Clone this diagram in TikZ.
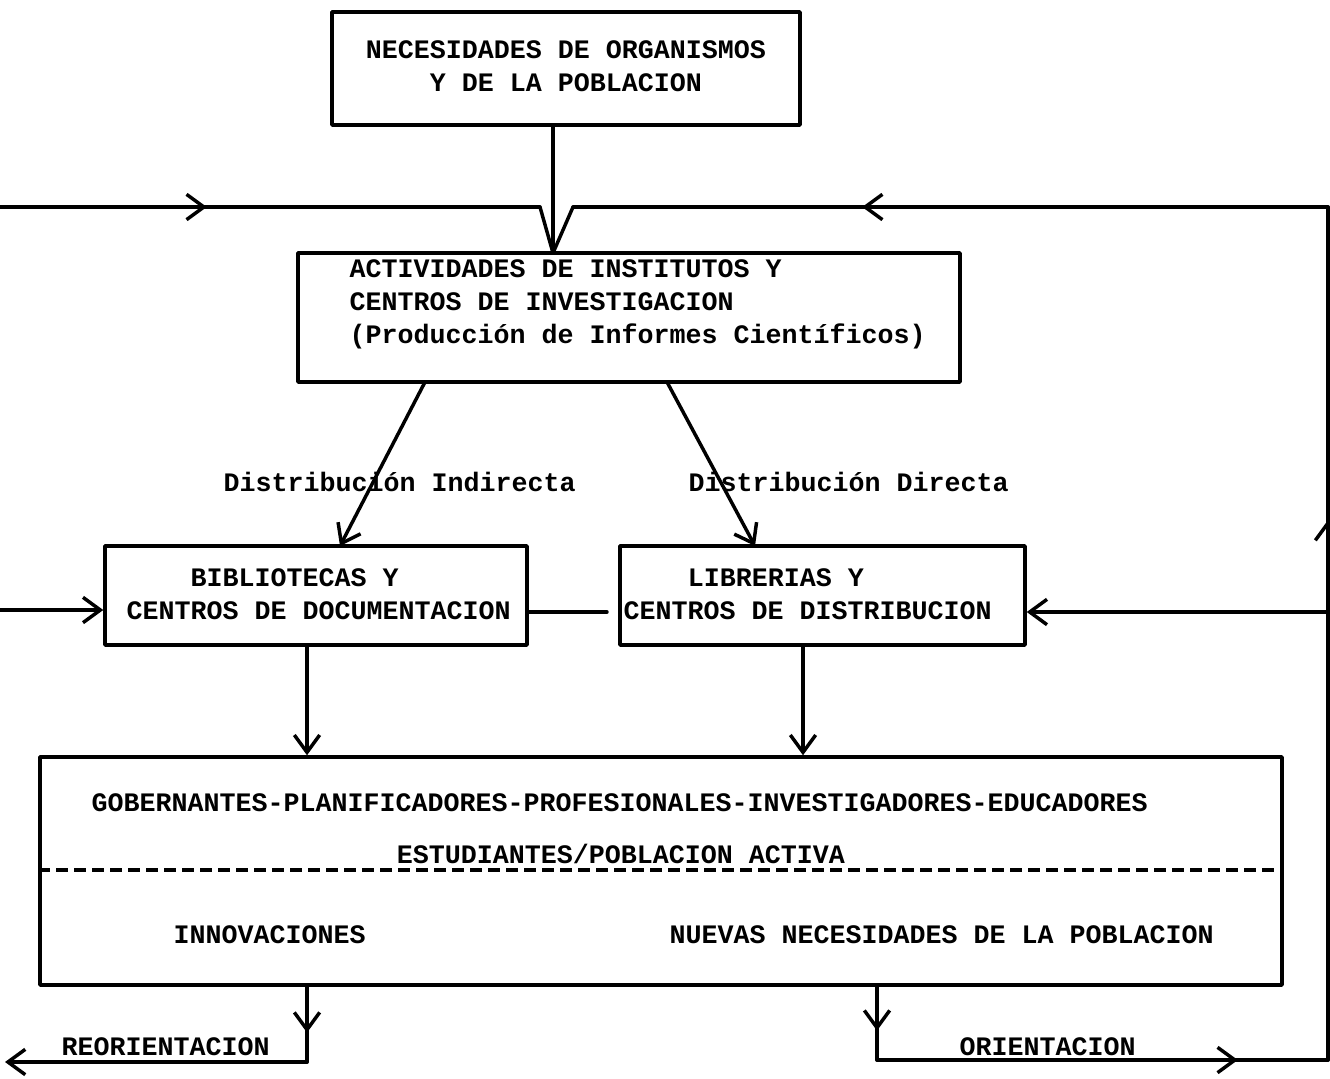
\documentclass[tikz,border=0pt]{standalone}
\usepackage{fontspec}
\setmainfont{Liberation Mono}
\usetikzlibrary{arrows.meta,decorations.markings}
\tikzset{
  arr/.tip={Straight Barb[length=13pt,width=19pt]},
  box/.style={draw,line width=2.6pt,inner sep=0pt},
  lbl/.style={inner sep=0pt,font=\fontsize{20pt}{24.75pt}\selectfont\bfseries},
  midarr/.style={postaction={decorate},decoration={markings,mark=at position #1 with {\arrow{arr}}}},
}
\begin{document}
\begin{tikzpicture}[x=0.75pt,y=-0.75pt,line width=2.6pt,line cap=round,line join=round]
\useasboundingbox (0,0) rectangle (1330,1078);
\clip (0,0) rectangle (1330,1078);
% boxes
\node[box,minimum width=351pt,minimum height=84.75pt] (box1) at (566,68.5) {};
\node[box,minimum width=496.5pt,minimum height=96.75pt] (box2) at (629,317.5) {};
\node[box,minimum width=316.5pt,minimum height=74.25pt] (box3) at (316,595.5) {};
\node[box,minimum width=303.75pt,minimum height=74.25pt] (box4) at (822.5,595.5) {};
\node[box,minimum width=931.5pt,minimum height=171pt] (box5) at (661,871) {};
% texts
\node[lbl,align=center] (t1) at (566,66.5) {NECESIDADES DE ORGANISMOS\\Y DE LA POBLACION};
\node[lbl,align=left,anchor=west] (t2) at (348,304) {ACTIVIDADES DE INSTITUTOS Y\\CENTROS DE INVESTIGACION\\(Producción de Informes Científicos)};
\node[lbl,anchor=west] (dind) at (222,482) {Distribución Indirecta};
\node[lbl,anchor=west] (ddir) at (687,482) {Distribución Directa};
\node[lbl,align=left,anchor=west] (t3) at (125,594.5) {\phantom{XXXX}BIBLIOTECAS Y\\CENTROS DE DOCUMENTACION};
\node[lbl,align=left,anchor=west] (t4) at (622,594.5) {\phantom{XXXX}LIBRERIAS Y\\CENTROS DE DISTRIBUCION};
\node[lbl,anchor=west] (t5a) at (90,803) {GOBERNANTES-PLANIFICADORES-PROFESIONALES-INVESTIGADORES-EDUCADORES};
\node[lbl] (t5b) at (621,854) {ESTUDIANTES/POBLACION ACTIVA};
\node[lbl,anchor=west] (t5c) at (172,935) {INNOVACIONES};
\node[lbl,anchor=west] (t5d) at (668,935) {NUEVAS NECESIDADES DE LA POBLACION};
\node[lbl,anchor=west] (reo) at (60,1047) {REORIENTACION};
\node[lbl,anchor=west] (ori) at (958,1047) {ORIENTACION};
% coordinates
\coordinate (tip2) at (553,253);
\coordinate (inL) at (0,207);
\coordinate (jL) at (540,207);
\coordinate (jR) at (573,207);
\coordinate (cR) at (1328,207);
\coordinate (cB) at (1328,1060);
\coordinate (r4) at (1328,612);
\coordinate (l3) at (0,610);
\coordinate (g) at (607,612);
\coordinate (d1s) at (425,382);
\coordinate (d1e) at (340,546);
\coordinate (d2s) at (667,382);
\coordinate (d2e) at (755,546);
\coordinate (x1) at (307,700);
\coordinate (x2) at (803,700);
\coordinate (bl) at (307,1062);
\coordinate (blend) at (5,1062);
\coordinate (br) at (877,1060);
\coordinate (dsh) at (40,870);
% connectors
\draw (box1.south -| tip2) -- (tip2);
\draw[midarr=0.383] (inL) -- (jL);
\draw (jL) -- (tip2);
\draw[midarr=0.617] (cR) -- (jR);
\draw (jR) -- (tip2);
\draw[midarr=0.633] (cB) -- (cR);
\draw[-arr] (r4) -- (box4.east |- r4);
\draw[-arr] (l3) -- (box3.west |- l3);
\draw (box3.east |- g) -- (g);
\draw[-arr] (d1s) -- (d1e);
\draw[-arr] (d2s) -- (d2e);
\draw[-arr] (box3.south -| x1) -- (box5.north -| x1);
\draw[-arr] (box4.south -| x2) -- (box5.north -| x2);
\draw[midarr=0.61] (box5.south -| bl) -- (bl);
\draw[-arr] (bl) -- (blend);
\draw[midarr=0.6] (box5.south -| br) -- (br);
\draw[midarr=0.8] (br) -- (cB);
\draw[dash pattern=on 9pt off 4.5pt,line cap=butt] (box5.west |- dsh) -- (box5.east |- dsh);
\end{tikzpicture}
\end{document}
